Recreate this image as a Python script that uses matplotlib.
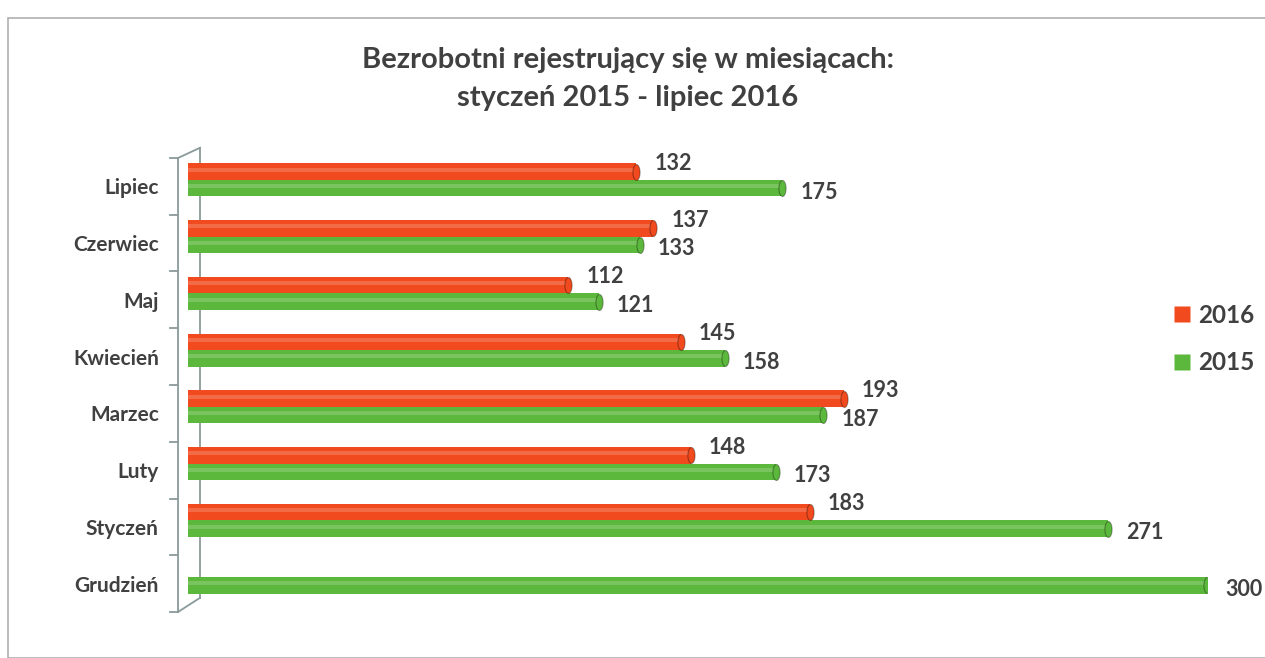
import numpy as np
import matplotlib.pyplot as plt
from matplotlib.patches import Rectangle
from matplotlib.lines import Line2D

# dane
miesiace = ['Lipiec', 'Czerwiec', 'Maj', 'Kwiecień', 'Marzec', 'Luty', 'Styczeń', 'Grudzień']
v2016 = [132, 137, 112, 145, 193, 148, 183, None]
v2015 = [175, 133, 121, 158, 187, 173, 271, 300]

kol16 = '#f04a1e'
kol15 = '#5cb83c'
szary = '#404040'
plt.rcParams['font.family'] = ['Lato', 'DejaVu Sans']

W, H = 1265, 658
fig = plt.figure(figsize=(W/100, H/100), dpi=100)
# ramka wykresu
fig.patches.append(Rectangle((8/W, 0), 1, 1 - 18/H, transform=fig.transFigure,
                             fill=False, ec='#b0b0b0', lw=1.2))

x0, x1 = 188, 1207
y0, y1 = 158, 612
ax = fig.add_axes([x0/W, 1 - y1/H, (x1 - x0)/W, (y1 - y0)/H])
ax.set_xlim(0, 300)
ax.set_ylim(len(miesiace) - 0.5, -0.5)

# znacznik elipsy na koncu walca
t = np.linspace(0, 2*np.pi, 40)
elipsa = list(zip(0.45*np.cos(t), np.sin(t)))

h = 0.29
for i in range(len(miesiace)):
    for val, off, kol, dy in ((v2016[i], -0.26, kol16, 6), (v2015[i], 0.03, kol15, -3)):
        if val is None:
            continue
        y = i + off
        ax.barh(y, val, height=h, color=kol, edgecolor='none', zorder=2)
        # odblask (efekt walca)
        ax.barh(y - h*0.12, val, height=h*0.25, color='white', alpha=0.18,
                edgecolor='none', zorder=3)
        ax.plot([val], [y], marker=elipsa, ms=11.5, mfc=kol, mec='#00000055',
                mew=0.8, zorder=4)
        ax.annotate(str(val), (val, y), xytext=(13, dy), textcoords='offset points',
                    ha='left', va='center', fontsize=15.5, fontweight='bold',
                    color=szary, annotation_clip=False)

for s in ax.spines.values():
    s.set_visible(False)
ax.set_xticks([])
ax.set_yticks(range(len(miesiace)))
ax.set_yticklabels(miesiace, fontsize=15, fontweight='bold', color=szary)
ax.tick_params(axis='y', length=0, pad=21)

# sciana 3D osi
px = 300 / (x1 - x0)
xf, xb = -10*px, 12*px
lk = dict(color='#8a9a9a', lw=1.3, clip_on=False, zorder=1)
ax.plot([xf, xf], [-0.5, 7.5], **lk)
ax.plot([xf, xb], [-0.5, -0.68], **lk)
ax.plot([xb, xb], [-0.68, 7.25], **lk)
ax.plot([xf, xb], [7.5, 7.25], **lk)
for b in range(len(miesiace) + 1):
    ax.plot([xf - 8*px, xf], [b - 0.5, b - 0.5], **lk)

fig.text(628/W, 1 - 60/H, 'Bezrobotni rejestrujący się w miesiącach:', ha='center',
         va='center', fontsize=21, fontweight='bold', color=szary)
fig.text(628/W, 1 - 98/H, 'styczeń 2015 - lipiec 2016', ha='center',
         va='center', fontsize=21, fontweight='bold', color=szary)

uchwyty = [Line2D([], [], ls='none', marker='s', ms=11, mfc=kol16, mec='none'),
           Line2D([], [], ls='none', marker='s', ms=11, mfc=kol15, mec='none')]
leg = fig.legend(uchwyty, ['2016', '2015'], loc='center left',
                 bbox_to_anchor=(1150/W, 1 - 339/H), frameon=False,
                 handlelength=0.8, handletextpad=0.3, labelspacing=1.0,
                 prop={'size': 17.5, 'weight': 'bold'})
for t in leg.get_texts():
    t.set_color(szary)

fig.savefig('out.png', dpi=100)
